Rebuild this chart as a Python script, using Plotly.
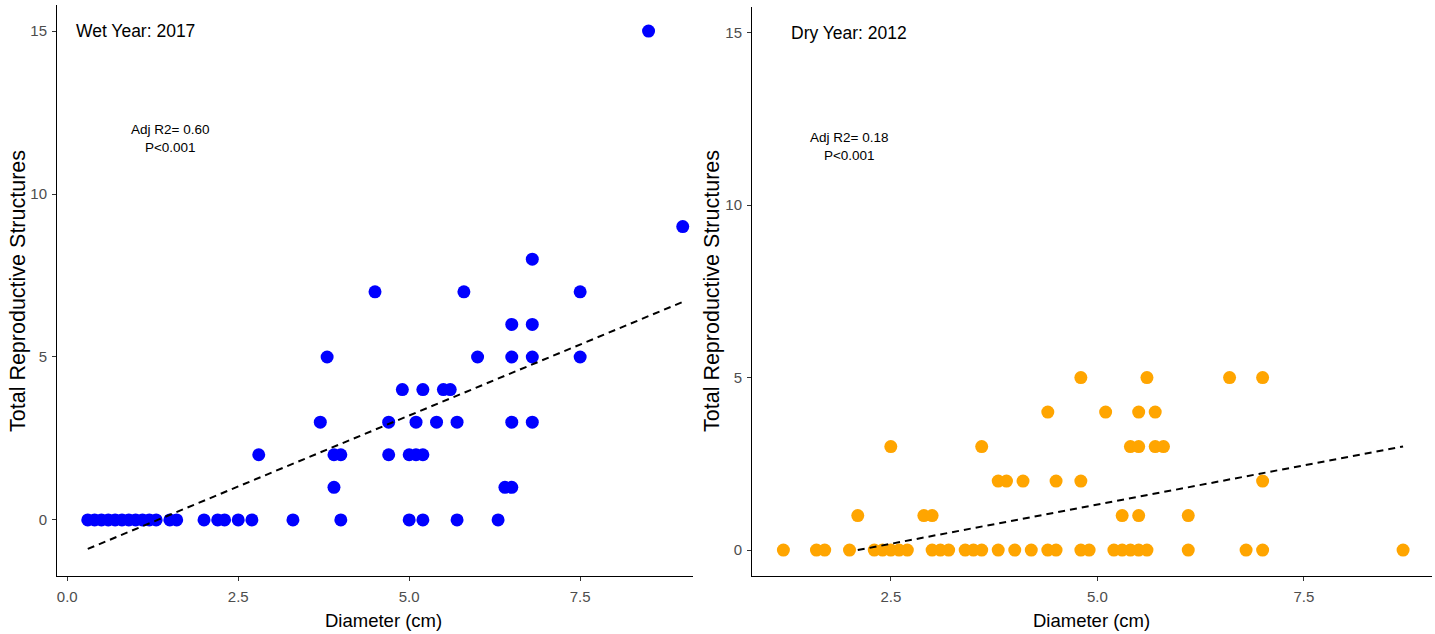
import plotly.graph_objects as go

# ---- Wet year 2017 (diameter cm, total reproductive structures) ----
wet_x = [0.3, 0.4, 0.5, 0.6, 0.7, 0.8, 0.9, 1.0, 1.1, 1.2, 1.3, 1.5, 1.6, 2.0, 2.2, 2.3, 2.5, 2.7, 3.3, 4.0,
         5.0, 5.2, 5.7, 6.3,
         3.9, 6.4, 6.5,
         2.8, 3.9, 4.0, 4.7, 5.0, 5.1, 5.2,
         3.7, 4.7, 5.1, 5.4, 5.7, 6.5, 6.8,
         4.9, 5.2, 5.5, 5.6,
         3.8, 6.0, 6.5, 6.8, 7.5,
         6.5, 6.8,
         4.5, 5.8, 7.5,
         6.8, 9.0, 8.5]
wet_y = [0] * 20 + [0, 0, 0, 0] + [1, 1, 1] + [2] * 7 + [3] * 7 + [4] * 4 + [5] * 5 + [6, 6] + [7, 7, 7] + [8, 9, 15]

# ---- Dry year 2012 ----
dry_x = [1.2, 1.6, 1.7, 2.0, 2.3, 2.4, 2.5, 2.6, 2.7, 3.0, 3.1, 3.2, 3.4, 3.5, 3.6, 3.8, 4.0, 4.2, 4.4, 4.5,
         4.8, 4.9, 5.2, 5.3, 5.4, 5.5, 5.6, 6.1, 6.8, 7.0, 8.7,
         2.1, 2.9, 3.0, 5.3, 5.5, 6.1,
         3.8, 3.9, 4.1, 4.5, 4.8, 7.0,
         2.5, 3.6, 5.4, 5.5, 5.7, 5.8,
         4.4, 5.1, 5.5, 5.7,
         4.8, 5.6, 6.6, 7.0]
dry_y = [0] * 31 + [1] * 6 + [2] * 6 + [3] * 6 + [4] * 4 + [5] * 4

# fitted lines (intercept, slope, x extent)
wet_fit = {"b0": -1.15, "b1": 0.871, "x": [0.3, 9.0]}
dry_fit = {"b0": -0.955, "b1": 0.455, "x": [2.1, 8.7]}

y_ticks = [0, 5, 10, 15]
wet_x_ticks = [0.0, 2.5, 5.0, 7.5]
dry_x_ticks = [2.5, 5.0, 7.5]

FONT = "Liberation Sans, Arial, sans-serif"

fig = go.Figure()
fig.add_trace(go.Scatter(x=wet_x, y=wet_y, mode="markers",
                         marker=dict(color="#0000FF", size=13, line=dict(width=0)),
                         xaxis="x", yaxis="y", showlegend=False))
fig.add_trace(go.Scatter(x=wet_fit["x"], y=[wet_fit["b0"] + wet_fit["b1"] * v for v in wet_fit["x"]],
                         mode="lines", line=dict(color="black", width=2, dash="7px,5px"),
                         xaxis="x", yaxis="y", showlegend=False))
fig.add_trace(go.Scatter(x=dry_x, y=dry_y, mode="markers",
                         marker=dict(color="#FFA500", size=13, line=dict(width=0)),
                         xaxis="x2", yaxis="y2", showlegend=False))
fig.add_trace(go.Scatter(x=dry_fit["x"], y=[dry_fit["b0"] + dry_fit["b1"] * v for v in dry_fit["x"]],
                         mode="lines", line=dict(color="black", width=2, dash="7px,5px"),
                         xaxis="x2", yaxis="y2", showlegend=False))

axis_common = dict(showgrid=False, zeroline=False, showline=True, linecolor="black", linewidth=1,
                   ticks="outside", ticklen=4, tickcolor="#333333", tickwidth=1,
                   tickfont=dict(family=FONT, size=15, color="#4D4D4D"))

fig.update_layout(
    width=1435, height=634,
    margin=dict(l=0, r=0, t=0, b=0),
    paper_bgcolor="white", plot_bgcolor="white",
    xaxis=dict(domain=[57 / 1435, 693 / 1435], range=[-0.15, 9.15], anchor="y", ticklabelstandoff=3,
               tickvals=wet_x_ticks, ticktext=["0.0", "2.5", "5.0", "7.5"], **axis_common),
    yaxis=dict(domain=[58 / 634, 629 / 634], range=[-1.72, 15.8], anchor="x", ticklabelstandoff=2,
               tickvals=y_ticks, **axis_common),
    xaxis2=dict(domain=[752 / 1435, 1432 / 1435], range=[0.82, 9.05], anchor="y2", ticklabelstandoff=3,
                tickvals=dry_x_ticks, ticktext=["2.5", "5.0", "7.5"], **axis_common),
    yaxis2=dict(domain=[58 / 634, 627 / 634], range=[-0.75, 15.74], anchor="x2", ticklabelstandoff=2,
                tickvals=y_ticks, **axis_common),
)

ann = []
# panel labels
ann.append(dict(x=1.0, y=15, xref="x", yref="y", text="Wet Year: 2017", showarrow=False,
                xanchor="center", yanchor="middle",
                font=dict(family=FONT, size=17.5, color="black")))
ann.append(dict(x=2.0, y=15, xref="x2", yref="y2", text="Dry Year: 2012", showarrow=False,
                xanchor="center", yanchor="middle",
                font=dict(family=FONT, size=17.5, color="black")))
# stats
ann.append(dict(x=1.5, y=11.7, xref="x", yref="y", text="Adj R2= 0.60<br>P<0.001", showarrow=False,
                xanchor="center", yanchor="middle",
                font=dict(family=FONT, size=13.5, color="black")))
ann.append(dict(x=2.0, y=11.7, xref="x2", yref="y2", text="Adj R2= 0.18<br>P<0.001", showarrow=False,
                xanchor="center", yanchor="middle",
                font=dict(family=FONT, size=13.5, color="black")))
# axis titles
for xc in [18, 712]:
    ann.append(dict(x=xc / 1435, y=1 - 291 / 634, xref="paper", yref="paper",
                    xanchor="center", yanchor="middle",
                    text="Total Reproductive Structures", textangle=-90, showarrow=False,
                    font=dict(family=FONT, size=21.5, color="black")))
for xc, yc in [(383, 620), (1091, 620)]:
    ann.append(dict(x=xc / 1435, y=1 - yc / 634, xref="paper", yref="paper",
                    xanchor="center", yanchor="middle",
                    text="Diameter (cm)", showarrow=False,
                    font=dict(family=FONT, size=18.5, color="black")))
fig.update_layout(annotations=ann)

fig.write_html("out.html")
